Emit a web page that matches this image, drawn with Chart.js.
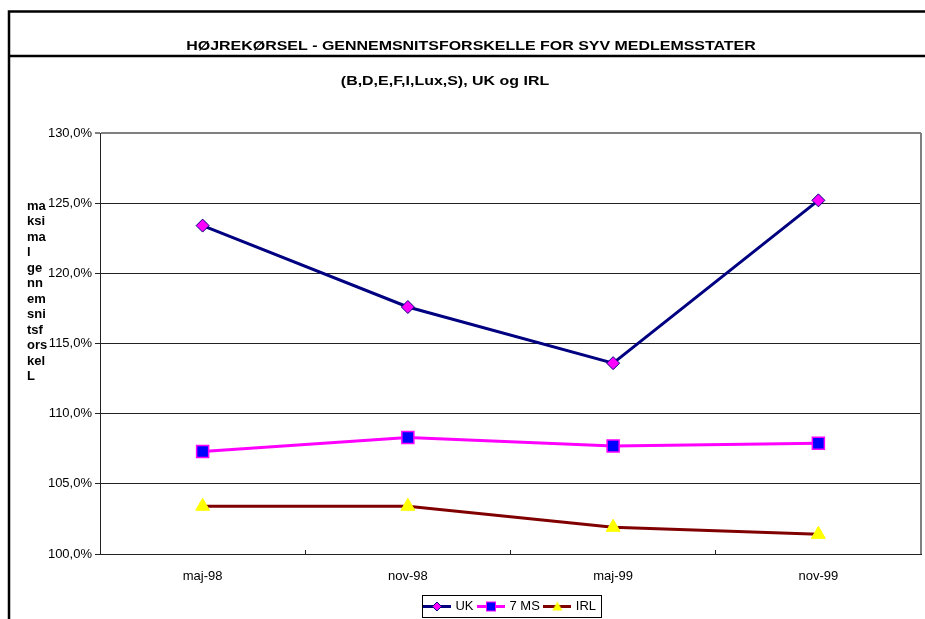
<!DOCTYPE html>
<html>
<head>
<meta charset="utf-8">
<title>Højrekørsel</title>
<script src="https://cdn.jsdelivr.net/npm/chart.js@4.4.1/dist/chart.umd.min.js"></script>
<style>
  html, body { margin: 0; padding: 0; background: #fff; }
  canvas { display: block; }
</style>
</head>
<body>
<canvas id="chart" width="925" height="619"></canvas>
<script>
// ---- data ----
const periods = ['maj-98', 'nov-98', 'maj-99', 'nov-99'];
const ukValues = [123.4, 117.6, 113.6, 125.2];
const msValues = [107.3, 108.3, 107.7, 107.9];
const irlValues = [103.4, 103.4, 101.9, 101.4];
const seriesNames = ['UK', '7 MS', 'IRL'];
const yMin = 100;
const yMax = 130;
const yStep = 5;
const chartTitle = 'HØJREKØRSEL - GENNEMSNITSFORSKELLE FOR SYV MEDLEMSSTATER';
const chartSubtitle = '(B,D,E,F,I,Lux,S), UK og IRL';
const yAxisTitle = ['ma', 'ksi', 'ma', 'l', 'ge', 'nn', 'em', 'sni', 'tsf', 'ors', 'kel', 'L'];

// ---- styling ----
const FONT = "'Liberation Sans', Arial, Helvetica, sans-serif";
const NAVY = '#000080', MAGENTA = '#FF00FF', BLUE = '#0000FF', MAROON = '#800000', YELLOW = '#FFFF00';
const GRID = '#222222', PLOT_EDGE = '#808080';

Chart.defaults.font.family = FONT;
Chart.defaults.font.size = 13;
Chart.defaults.color = '#000';

// Legend swatches: a short line segment with the series marker on it
function makeSwatch(lineColor, drawMarker) {
  const c = document.createElement('canvas');
  c.width = 28; c.height = 13;
  const g = c.getContext('2d');
  g.strokeStyle = lineColor; g.lineWidth = 3;
  g.beginPath(); g.moveTo(0, 6.5); g.lineTo(28, 6.5); g.stroke();
  drawMarker(g, 14, 6.5);
  return c;
}
const swatches = [
  makeSwatch(NAVY, (g, x, y) => {
    g.beginPath(); g.moveTo(x, y - 4.5); g.lineTo(x + 4.5, y); g.lineTo(x, y + 4.5); g.lineTo(x - 4.5, y); g.closePath();
    g.fillStyle = MAGENTA; g.fill(); g.strokeStyle = NAVY; g.lineWidth = 1; g.stroke();
  }),
  makeSwatch(MAGENTA, (g, x, y) => {
    g.fillStyle = MAGENTA; g.fillRect(x - 5, y - 5, 10, 10);
    g.fillStyle = BLUE; g.fillRect(x - 4, y - 4, 8, 8);
  }),
  makeSwatch(MAROON, (g, x, y) => {
    g.beginPath(); g.moveTo(x, y - 5); g.lineTo(x + 5, y + 4); g.lineTo(x - 5, y + 4); g.closePath();
    g.fillStyle = YELLOW; g.fill();
  })
];

function drawStretched(ctx, text, cx, baseline, sx) {
  ctx.save();
  ctx.translate(cx, baseline);
  ctx.scale(sx, 1);
  ctx.textAlign = 'center';
  ctx.textBaseline = 'alphabetic';
  ctx.fillText(text, 0, 0);
  ctx.restore();
}

// Frame, headings, stacked axis caption and legend box
const decorPlugin = {
  id: 'decor',
  afterDraw(chart) {
    const { ctx, chartArea: a, width, height } = chart;
    ctx.save();

    // outer frame and rule under the heading
    ctx.strokeStyle = '#000';
    ctx.lineWidth = 2.5;
    ctx.beginPath();
    ctx.moveTo(9, height); ctx.lineTo(9, 11.5); ctx.lineTo(width, 11.5);
    ctx.moveTo(9, 56); ctx.lineTo(width, 56);
    ctx.stroke();

    // right edge of the plot area
    ctx.strokeStyle = PLOT_EDGE;
    ctx.lineWidth = 2;
    ctx.beginPath(); ctx.moveTo(a.right, a.top); ctx.lineTo(a.right, a.bottom); ctx.stroke();

    // headings
    ctx.fillStyle = '#000';
    ctx.font = 'bold 12px ' + FONT;
    drawStretched(ctx, chartTitle, 471, 49.5, 1.33);
    drawStretched(ctx, chartSubtitle, 445, 84.5, 1.33);

    // stacked y-axis caption
    ctx.font = 'bold 13px ' + FONT;
    ctx.textAlign = 'left';
    ctx.textBaseline = 'alphabetic';
    yAxisTitle.forEach((s, i) => ctx.fillText(s, 27, 209.5 + 15.5 * i));

    // legend border
    const hb = chart.legend.legendHitBoxes;
    if (hb && hb.length) {
      const first = hb[0], last = hb[hb.length - 1];
      const l = Math.round(first.left - 3) + 0.5;
      const r = Math.round(last.left + last.width + 5) + 0.5;
      const t = Math.round(first.top - 5) + 0.5;
      const b = Math.round(first.top + first.height + 4) + 0.5;
      ctx.strokeStyle = '#000';
      ctx.lineWidth = 1;
      ctx.strokeRect(l, t, r - l, b - t);
    }
    ctx.restore();
  }
};

new Chart(document.getElementById('chart'), {
  type: 'line',
  data: {
    labels: periods,
    datasets: [
      {
        label: seriesNames[0], data: ukValues,
        borderColor: NAVY, borderWidth: 3, tension: 0,
        pointStyle: 'rectRot', pointRadius: 6.5,
        pointBackgroundColor: MAGENTA, pointBorderColor: NAVY, pointBorderWidth: 1
      },
      {
        label: seriesNames[1], data: msValues,
        borderColor: MAGENTA, borderWidth: 3, tension: 0,
        pointStyle: 'rect', pointRadius: 8.5,
        pointBackgroundColor: BLUE, pointBorderColor: MAGENTA, pointBorderWidth: 1.5
      },
      {
        label: seriesNames[2], data: irlValues,
        borderColor: MAROON, borderWidth: 3, tension: 0,
        pointStyle: 'triangle', pointRadius: 8,
        pointBackgroundColor: YELLOW, pointBorderColor: YELLOW, pointBorderWidth: 1
      }
    ]
  },
  options: {
    responsive: false,
    animation: false,
    devicePixelRatio: 1,
    layout: { autoPadding: false, padding: { left: 0, right: 4, top: 133, bottom: 0 } },
    plugins: {
      tooltip: { enabled: false },
      title: { display: false },
      legend: {
        position: 'bottom',
        fullSize: false,
        maxHeight: 24.5,
        labels: {
          usePointStyle: true,
          pointStyleWidth: 24,
          padding: 5.5,
          color: '#000',
          font: { size: 13 },
          generateLabels(chart) {
            const items = Chart.defaults.plugins.legend.labels.generateLabels(chart);
            items.forEach((it, i) => { it.pointStyle = swatches[i]; });
            return items;
          }
        }
      }
    },
    scales: {
      x: {
        type: 'category',
        offset: true,
        grid: { offset: true, drawOnChartArea: false, tickLength: -4, color: GRID },
        border: { color: GRID, width: 1 },
        ticks: { padding: 19, color: '#000', font: { size: 13 }, maxRotation: 0, autoSkip: false },
        afterFit(scale) {
          scale.height = 40.5;
          scale.paddingLeft = 0;
          scale.paddingRight = 0;
        }
      },
      y: {
        min: yMin,
        max: yMax,
        ticks: {
          stepSize: yStep,
          padding: 3,
          color: '#000',
          font: { size: 13 },
          callback: v => v.toFixed(1).replace('.', ',') + '%'
        },
        grid: {
          tickLength: 5,
          color: c => (c.tick && c.tick.value === yMax ? PLOT_EDGE : GRID),
          lineWidth: c => (c.tick && c.tick.value === yMax ? 2 : 1)
        },
        border: { color: GRID, width: 1 },
        afterFit(scale) { scale.width = 100; }
      }
    }
  },
  plugins: [decorPlugin]
});
</script>
</body>
</html>
